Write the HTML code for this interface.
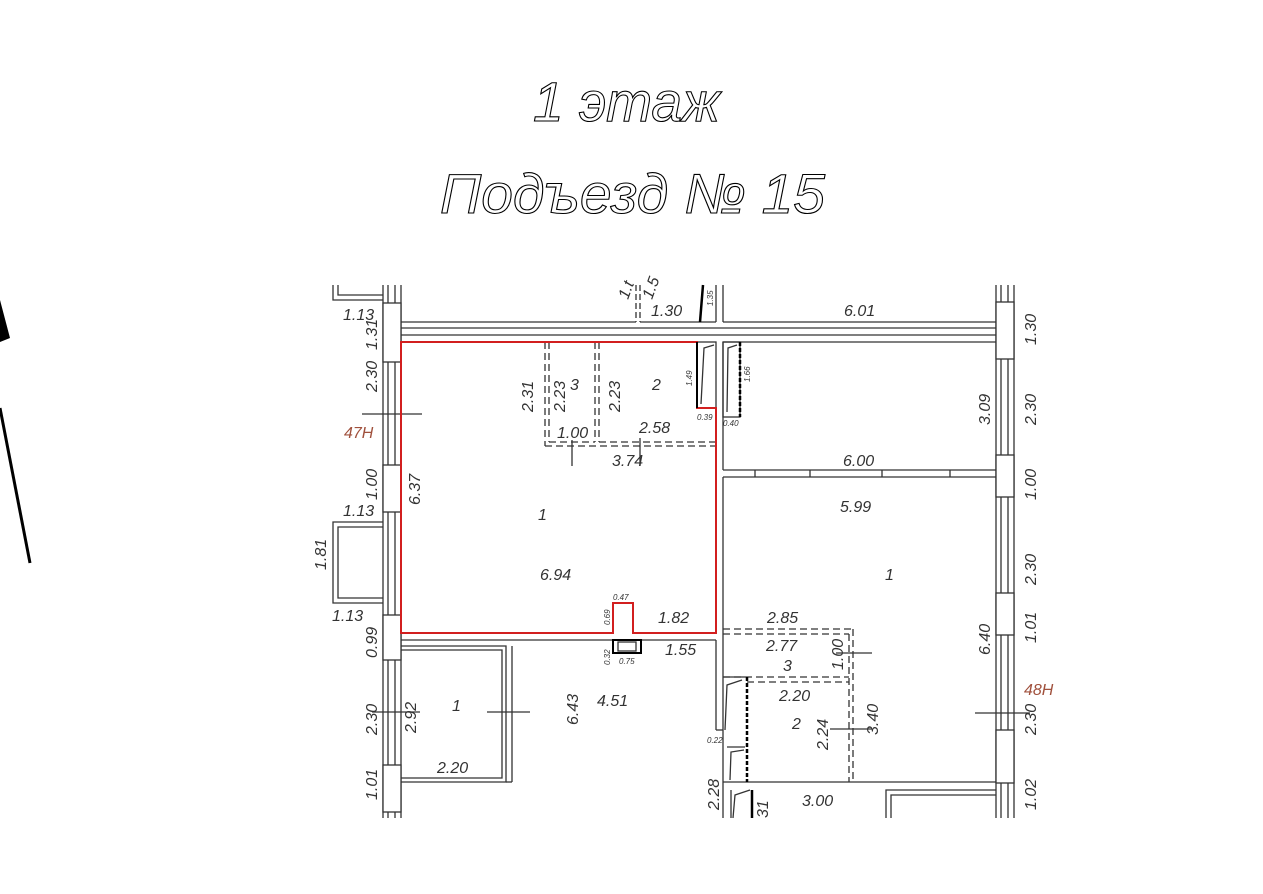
<!DOCTYPE html>
<html><head><meta charset="utf-8"><style>
html,body{margin:0;padding:0;background:#fff;}
svg{display:block}
text{font-family:"Liberation Sans","DejaVu Sans",sans-serif;font-style:italic;fill:#333;}
.t{font-size:16px}
.s{font-size:8px}
.ttl{font-size:56px;fill:none;stroke:#000;stroke-width:1.1}
</style></head><body>
<svg width="1263" height="894" viewBox="0 0 1263 894" xmlns="http://www.w3.org/2000/svg">
<rect width="1263" height="894" fill="#fff"/>
<text class="ttl" x="533" y="121" textLength="187" lengthAdjust="spacingAndGlyphs">1 этаж</text>
<text class="ttl" x="440" y="213" textLength="385" lengthAdjust="spacingAndGlyphs">Подъезд № 15</text>

<!-- compass arrow -->
<polygon points="0,300 10,338 0,342" fill="#000"/>
<line x1="0" y1="408" x2="30" y2="563" stroke="#000" stroke-width="3"/>

<g stroke="#333" stroke-width="1.3" fill="none">
<line x1="383" y1="285" x2="383" y2="818"/><line x1="388" y1="285" x2="388" y2="818"/>
<line x1="395" y1="285" x2="395" y2="818"/><line x1="401" y1="285" x2="401" y2="818"/>
<rect x="383" y="303" width="18" height="59" fill="#fff"/>
<rect x="383" y="465" width="18" height="47" fill="#fff"/>
<rect x="383" y="615" width="18" height="45" fill="#fff"/>
<rect x="383" y="765" width="18" height="47" fill="#fff"/>
<polyline points="333,285 333,300 383,300"/><polyline points="338,285 338,295 383,295"/>
<polyline points="383,522 333,522 333,603 383,603"/><polyline points="383,527 338,527 338,598 383,598"/>
<line x1="401" y1="322" x2="636" y2="322"/><line x1="640" y1="322" x2="716" y2="322"/><line x1="723" y1="322" x2="997" y2="322"/>
<line x1="401" y1="328" x2="997" y2="328"/><line x1="401" y1="335" x2="997" y2="335"/>
<line x1="723" y1="342" x2="997" y2="342"/>
<line x1="636" y1="285" x2="636" y2="322" stroke-dasharray="6 3"/><line x1="640" y1="285" x2="640" y2="322" stroke-dasharray="6 3"/>
<line x1="716" y1="285" x2="716" y2="322"/><line x1="723" y1="285" x2="723" y2="322"/>
<line x1="703" y1="285" x2="700" y2="322" stroke="#000" stroke-width="2.5"/>
<line x1="996" y1="285" x2="996" y2="818"/><line x1="1001" y1="285" x2="1001" y2="818"/>
<line x1="1008" y1="285" x2="1008" y2="818"/><line x1="1014" y1="285" x2="1014" y2="818"/>
<rect x="996" y="302" width="18" height="57" fill="#fff"/>
<rect x="996" y="455" width="18" height="42" fill="#fff"/>
<rect x="996" y="593" width="18" height="42" fill="#fff"/>
<rect x="996" y="730" width="18" height="53" fill="#fff"/>
<line x1="716" y1="408" x2="716" y2="633"/>
<line x1="723" y1="342" x2="723" y2="470"/>
<line x1="723" y1="477" x2="723" y2="818"/>
<line x1="723" y1="470" x2="996" y2="470"/><line x1="723" y1="477" x2="996" y2="477"/>
<line x1="755" y1="470" x2="755" y2="477"/><line x1="810" y1="470" x2="810" y2="477"/><line x1="882" y1="470" x2="882" y2="477"/><line x1="950" y1="470" x2="950" y2="477"/>
<rect x="697" y="342" width="19" height="66"/>
<path d="M701 404 L704 348 L714 345"/>
<rect x="723" y="342" width="17" height="75"/>
<line x1="740" y1="342" x2="740" y2="417" stroke="#000" stroke-width="2.5" stroke-dasharray="4 2"/>
<path d="M727 412 L728 348 L737 345"/>
<g stroke-dasharray="7 4">
<line x1="545" y1="342" x2="545" y2="446"/><line x1="549" y1="342" x2="549" y2="442"/>
<line x1="595" y1="342" x2="595" y2="442"/><line x1="599" y1="342" x2="599" y2="442"/>
<line x1="549" y1="442" x2="595" y2="442"/><line x1="599" y1="442" x2="716" y2="442"/>
<line x1="545" y1="446" x2="716" y2="446"/>
</g>
<line x1="401" y1="640" x2="716" y2="640"/><line x1="716" y1="640" x2="716" y2="730"/><line x1="716" y1="730" x2="723" y2="730"/>
<rect x="613" y="640" width="28" height="13" stroke="#000" stroke-width="2"/>
<rect x="618" y="642" width="18" height="9"/>
<polyline points="401,646 506,646 506,782 401,782"/><polyline points="401,650 502,650 502,778 401,778"/>
<line x1="512" y1="646" x2="512" y2="782"/><line x1="506" y1="782" x2="512" y2="782"/>
<g stroke-dasharray="7 4">
<line x1="723" y1="629" x2="853" y2="629"/><line x1="723" y1="634" x2="849" y2="634"/>
<line x1="853" y1="629" x2="853" y2="782"/><line x1="849" y1="634" x2="849" y2="782"/>
<line x1="723" y1="677" x2="849" y2="677"/><line x1="747" y1="682" x2="849" y2="682"/>
</g>
<line x1="723" y1="782" x2="996" y2="782"/>
<line x1="747" y1="677" x2="747" y2="782" stroke="#000" stroke-width="2.5" stroke-dasharray="4 2"/>
<path d="M723 677 L745 677 M725 730 L727 685 L742 680 M727 747 L745 747 M730 780 L731 752 L744 750"/>
<line x1="731" y1="790" x2="731" y2="818"/>
<path d="M733 818 L735 795 L750 790"/>
<line x1="752" y1="790" x2="752" y2="818" stroke="#000" stroke-width="2.5"/>
<polyline points="886,818 886,790 996,790"/><polyline points="891,818 891,795 996,795"/>
<line x1="362" y1="414" x2="422" y2="414"/>
<line x1="572" y1="440" x2="572" y2="466"/><line x1="640" y1="438" x2="640" y2="466"/>
<line x1="372" y1="712" x2="420" y2="712"/><line x1="487" y1="712" x2="530" y2="712"/>
<line x1="836" y1="653" x2="872" y2="653"/><line x1="830" y1="729" x2="872" y2="729"/>
<line x1="975" y1="713" x2="1030" y2="713"/>
</g>
<polygon points="401,342 697,342 697,408 716,408 716,633 633,633 633,603 613,603 613,633 401,633" fill="none" stroke="#d21f1f" stroke-width="2"/>
<line x1="697" y1="342" x2="697" y2="408" stroke="#000" stroke-width="2"/>

<g class="t">
<text x="343" y="320">1.13</text>
<text x="377" y="350" transform="rotate(-90 377 350)">1.31</text>
<text x="377" y="392" transform="rotate(-90 377 392)">2.30</text>
<text x="344" y="438" style="fill:#a0503c">47H</text>
<text x="377" y="500" transform="rotate(-90 377 500)">1.00</text>
<text x="343" y="516">1.13</text>
<text x="326" y="570" transform="rotate(-90 326 570)">1.81</text>
<text x="332" y="621">1.13</text>
<text x="377" y="658" transform="rotate(-90 377 658)">0.99</text>
<text x="377" y="735" transform="rotate(-90 377 735)">2.30</text>
<text x="377" y="800" transform="rotate(-90 377 800)">1.01</text>
<text x="420" y="505" transform="rotate(-90 420 505)">6.37</text>
<text x="533" y="412" transform="rotate(-90 533 412)">2.31</text>
<text x="565" y="412" transform="rotate(-90 565 412)">2.23</text>
<text x="570" y="390">3</text>
<text x="620" y="412" transform="rotate(-90 620 412)">2.23</text>
<text x="652" y="390">2</text>
<text x="557" y="438">1.00</text>
<text x="639" y="433">2.58</text>
<text x="612" y="466">3.74</text>
<text x="538" y="520">1</text>
<text x="540" y="580">6.94</text>
<text x="658" y="623">1.82</text>
<text x="665" y="655">1.55</text>
<text x="651" y="316">1.30</text>
<text x="628" y="300" transform="rotate(-70 628 300)">1.t</text>
<text x="652" y="300" transform="rotate(-70 652 300)">1.5</text>
<text x="416" y="733" transform="rotate(-90 416 733)">2.92</text>
<text x="452" y="711">1</text>
<text x="578" y="725" transform="rotate(-90 578 725)">6.43</text>
<text x="597" y="706">4.51</text>
<text x="437" y="773">2.20</text>
<text x="719" y="810" transform="rotate(-90 719 810)">2.28</text>
<text x="844" y="316">6.01</text>
<text x="1036" y="345" transform="rotate(-90 1036 345)">1.30</text>
<text x="990" y="425" transform="rotate(-90 990 425)">3.09</text>
<text x="1036" y="425" transform="rotate(-90 1036 425)">2.30</text>
<text x="843" y="466">6.00</text>
<text x="1036" y="500" transform="rotate(-90 1036 500)">1.00</text>
<text x="840" y="512">5.99</text>
<text x="885" y="580">1</text>
<text x="1036" y="585" transform="rotate(-90 1036 585)">2.30</text>
<text x="767" y="623">2.85</text>
<text x="766" y="651">2.77</text>
<text x="783" y="671">3</text>
<text x="843" y="670" transform="rotate(-90 843 670)">1.00</text>
<text x="990" y="655" transform="rotate(-90 990 655)">6.40</text>
<text x="1036" y="643" transform="rotate(-90 1036 643)">1.01</text>
<text x="779" y="701">2.20</text>
<text x="792" y="729">2</text>
<text x="828" y="750" transform="rotate(-90 828 750)">2.24</text>
<text x="878" y="735" transform="rotate(-90 878 735)">3.40</text>
<text x="1024" y="695" style="fill:#a0503c">48H</text>
<text x="1036" y="735" transform="rotate(-90 1036 735)">2.30</text>
<text x="1036" y="810" transform="rotate(-90 1036 810)">1.02</text>
<text x="802" y="806">3.00</text>
<text x="768" y="818" transform="rotate(-90 768 818)">31</text>
</g>
<g class="s">
<text x="692" y="386" transform="rotate(-90 692 386)">1.49</text>
<text x="697" y="420">0.39</text>
<text x="750" y="382" transform="rotate(-90 750 382)">1.66</text>
<text x="723" y="426">0.40</text>
<text x="713" y="306" transform="rotate(-90 713 306)">1.35</text>
<text x="613" y="600">0.47</text>
<text x="610" y="625" transform="rotate(-90 610 625)">0.69</text>
<text x="610" y="665" transform="rotate(-90 610 665)">0.32</text>
<text x="619" y="664">0.75</text>
<text x="707" y="743">0.22</text>
</g>
</svg>
</body></html>
